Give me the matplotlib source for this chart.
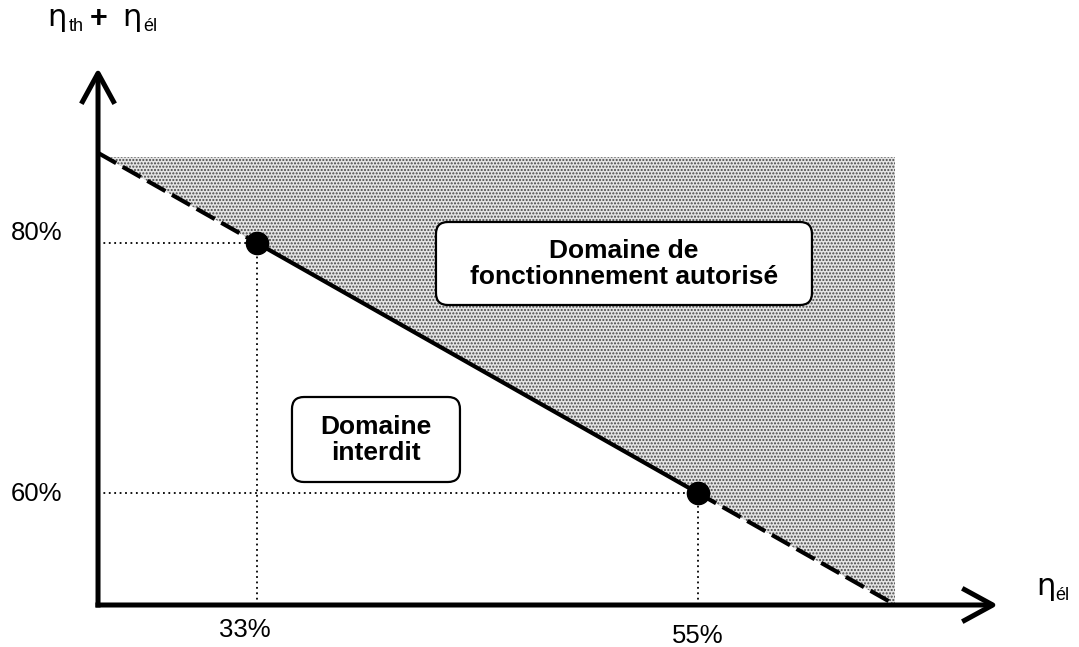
import numpy as np
import matplotlib
matplotlib.use("Agg")
import matplotlib.pyplot as plt
from matplotlib.patches import FancyBboxPatch

plt.rcParams['font.family'] = ['Liberation Sans', 'DejaVu Sans']
plt.rcParams['hatch.linewidth'] = 1.0

# donnees --------------------------------------------------------------------------------
pts_el = [33, 55]          # rendement electrique (%)
pts_tot = [80, 60]         # rendement total (%)
xlabels = ['33%', '55%']
ylabels = ['80%', '60%']

# bornes du domaine trace
x0, y0 = 25.07, 51.04        # origine des axes
x_tip, y_tip = 69.97, 94.0   # pointes des fleches
x_max, y_max = 64.83, 86.88  # limites de la zone grisee

pente = (pts_tot[1] - pts_tot[0]) / (pts_el[1] - pts_el[0])
def droite(x):
    return pts_tot[0] + pente * (np.asarray(x) - pts_el[0])

# pixel -> donnees (pour placer les textes)
def px(x, y):
    return 33 + (x - 257) / 20.045, 80 - (y - 243) / 12.5

# figure ------------------------------------------------------------------------------------
fig = plt.figure(figsize=(10.79, 6.47), dpi=100)
ax = fig.add_axes([0, 0, 1, 1])
ax.set_xlim(20.18, 74.01)
ax.set_ylim(47.68, 99.44)
ax.axis('off')

# zone autorisee (grisee)
x_haut = pts_el[0] + (y_max - pts_tot[0]) / pente
poly_x = [x_haut, x_max, x_max]
poly_y = [y_max, y_max, droite(x_max)]
ax.fill(poly_x, poly_y, facecolor='#e4e4e4', edgecolor='#454545', lw=0,
        hatch='.....', zorder=1)

# droite limite : pointilles a l'exterieur, trait plein entre les points
ax.plot([x0, pts_el[0]], droite([x0, pts_el[0]]), color='black', lw=3, dashes=(5, 1.8), zorder=3)
ax.plot(pts_el, pts_tot, color='black', lw=3, zorder=3)
ax.plot([pts_el[1], x_max], droite([pts_el[1], x_max]), color='black', lw=3, dashes=(5, 1.8), zorder=3)

# lignes de rappel
for xe, yt in zip(pts_el, pts_tot):
    ax.plot([x0, xe], [yt, yt], color='black', lw=1.3, ls=(0, (1, 2)), zorder=2)
    ax.plot([xe, xe], [y0, yt], color='black', lw=1.3, ls=(0, (1, 2)), zorder=2)

ax.plot(pts_el, pts_tot, 'o', color='black', ms=16, zorder=4)

# axes avec fleches
fl = dict(arrowstyle='->,head_length=1.1,head_width=0.6', lw=3.6, color='black',
          mutation_scale=20, shrinkA=0, shrinkB=0, capstyle='butt')
ax.annotate('', xy=(x0, y_tip), xytext=(x0, y0 - 0.2), arrowprops=fl, zorder=5)
ax.annotate('', xy=(x_tip, y0), xytext=(x0 - 0.13, y0), arrowprops=fl, zorder=5)

# graduations
ax.text(*px(37, 233), ylabels[0], fontsize=18.5, ha='center', va='center')
ax.text(*px(37, 494), ylabels[1], fontsize=18.5, ha='center', va='center')
ax.text(*px(245, 630), xlabels[0], fontsize=18.5, ha='center', va='center')
ax.text(*px(698, 636), xlabels[1], fontsize=18.5, ha='center', va='center')

# titres des axes
gr = dict(family=['DejaVu Sans'], fontsize=22, va='baseline', ha='left')
sub = dict(fontsize=13, va='baseline', ha='left')
ax.text(*px(47, 26), 'η', **gr)
ax.text(*px(69, 31), 'th', **sub)
ax.text(*px(90, 27), '+', fontsize=22, fontweight='bold', va='baseline', ha='left')
ax.text(*px(122, 26), 'η', **gr)
ax.text(*px(143, 31), 'él', **sub)
ax.text(*px(1036, 595), 'η', **gr)
ax.text(*px(1055, 600), 'él', **sub)

# etiquettes des domaines
asp = 20.045 / 12.5
for (xa, ya, xb, yb) in [(436, 222, 812, 305), (292, 397, 460, 482)]:
    (dx0, dy1), (dx1, dy0) = px(xa, ya), px(xb, yb)
    ax.add_patch(FancyBboxPatch((dx0, dy0), dx1 - dx0, dy1 - dy0,
                                boxstyle='round,pad=0,rounding_size=0.6',
                                mutation_aspect=asp, fc='white', ec='black', lw=1.6, zorder=6))

ax.text(*px(624, 264), 'Domaine de\nfonctionnement autorisé', fontsize=19, fontweight='bold',
        ha='center', va='center', linespacing=1.1, zorder=7)
ax.text(*px(376, 440), 'Domaine\ninterdit', fontsize=19, fontweight='bold',
        ha='center', va='center', linespacing=1.1, zorder=7)

fig.savefig('out.png', dpi=100)
